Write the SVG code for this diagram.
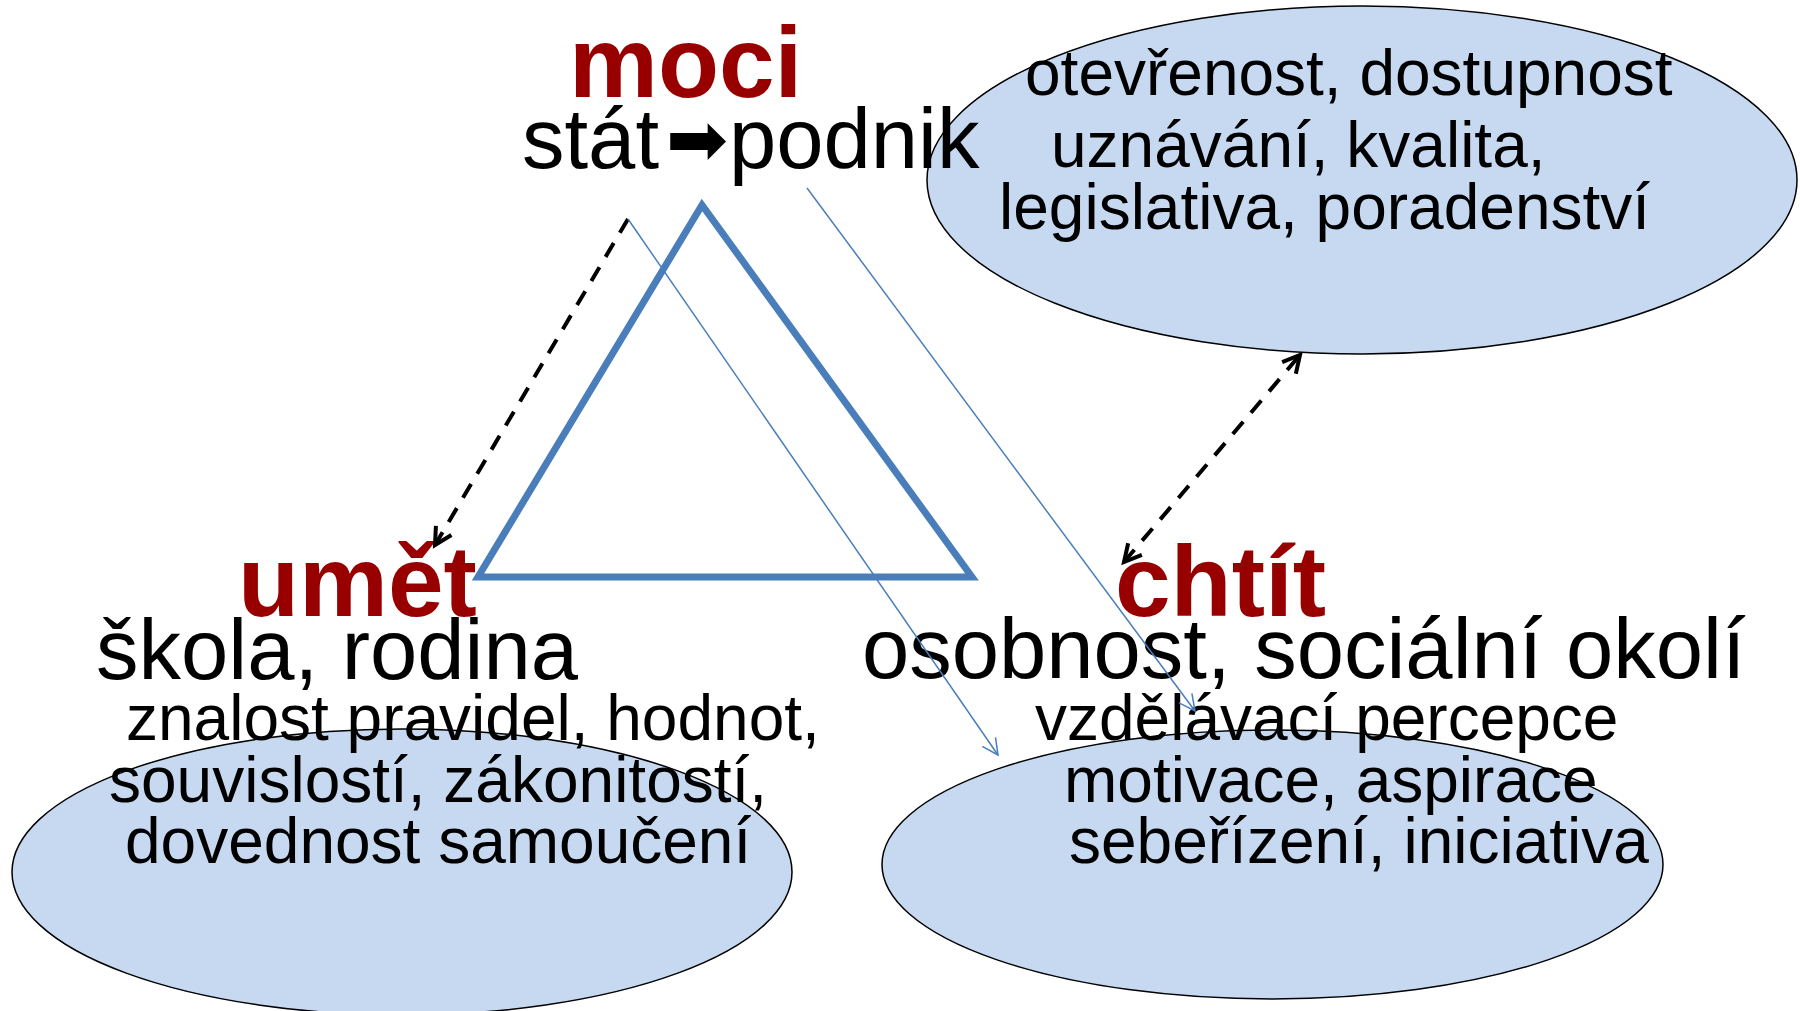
<svg xmlns="http://www.w3.org/2000/svg" width="1800" height="1011" viewBox="0 0 1800 1011">
<style>
text { font-family: "Liberation Sans", Arial, sans-serif; fill: #000; }
.kw { font-weight: bold; font-size: 100px; fill: #980000; }
.big { font-size: 85px; }
.sm { font-size: 64px; }
.ell { fill: #C6D9F1; stroke: #000; stroke-width: 1.5; }
.dash { fill: none; stroke: #000; stroke-width: 4; stroke-dasharray: 16 12; }
.thin { fill: none; stroke: #4A7EBB; stroke-width: 1.5; }
</style>
<defs>
<marker id="ahBlack" markerUnits="userSpaceOnUse" markerWidth="24" markerHeight="24" viewBox="-12 -12 24 24" refX="0" refY="0" orient="auto-start-reverse" overflow="visible">
<path d="M-17,-9 L0,0 L-17,9" fill="none" stroke="#000" stroke-width="4"/>
</marker>
<marker id="ahBlue" markerUnits="userSpaceOnUse" markerWidth="20" markerHeight="20" viewBox="-10 -10 20 20" refX="0" refY="0" orient="auto" overflow="visible">
<path d="M-16,-8 L0,0 L-16,8" fill="none" stroke="#4A7EBB" stroke-width="1.5"/>
</marker>
</defs>

<g id="node-institutions">
<ellipse class="ell" cx="1362" cy="180" rx="435" ry="174"/>
<text class="sm" x="1025" y="95">otevřenost, dostupnost</text>
<text class="sm" x="1051" y="167">uznávání, kvalita,</text>
<text class="sm" x="999" y="229">legislativa, poradenství</text>
</g>

<g id="node-umet">
<ellipse class="ell" cx="402" cy="872" rx="390" ry="143"/>
<text class="kw" x="238" y="616">umět</text>
<text class="big" x="96" y="679">škola, rodina</text>
<text class="sm" x="126" y="740">znalost pravidel, hodnot,</text>
<text class="sm" x="109" y="802">souvislostí, zákonitostí,</text>
<text class="sm" x="125" y="863">dovednost samoučení</text>
</g>

<g id="node-chtit">
<ellipse class="ell" cx="1272.5" cy="864.5" rx="390.5" ry="134.5"/>
<text class="kw" x="1115" y="616">chtít</text>
<text class="big" x="862" y="678">osobnost, sociální okolí</text>
<text class="sm" x="1035" y="740">vzdělávací percepce</text>
<text class="sm" x="1064" y="802">motivace, aspirace</text>
<text class="sm" x="1069" y="863">sebeřízení, iniciativa</text>
</g>

<g id="node-moci">
<text class="kw" x="569" y="97">moci</text>
<text class="big" x="522" y="168">stát</text>
<text x="666" y="165" style="font-family:'DejaVu Sans',sans-serif;font-size:74px">➡</text>
<text class="big" x="729" y="168">podnik</text>
</g>

<g id="node-triangle">
<polygon points="702,205 478,577 972,577" fill="none" stroke="#4A7EBB" stroke-width="7" stroke-linejoin="miter"/>
</g>

<g id="connectors">
<line class="dash" x1="628" y1="219" x2="435" y2="545" marker-end="url(#ahBlack)"/>
<line class="dash" x1="1124" y1="562" x2="1300" y2="355" marker-start="url(#ahBlack)" marker-end="url(#ahBlack)"/>
<line class="thin" x1="628" y1="219" x2="998" y2="755" marker-end="url(#ahBlue)"/>
<line class="thin" x1="807" y1="188" x2="1195" y2="711" marker-end="url(#ahBlue)"/>
</g>
</svg>
